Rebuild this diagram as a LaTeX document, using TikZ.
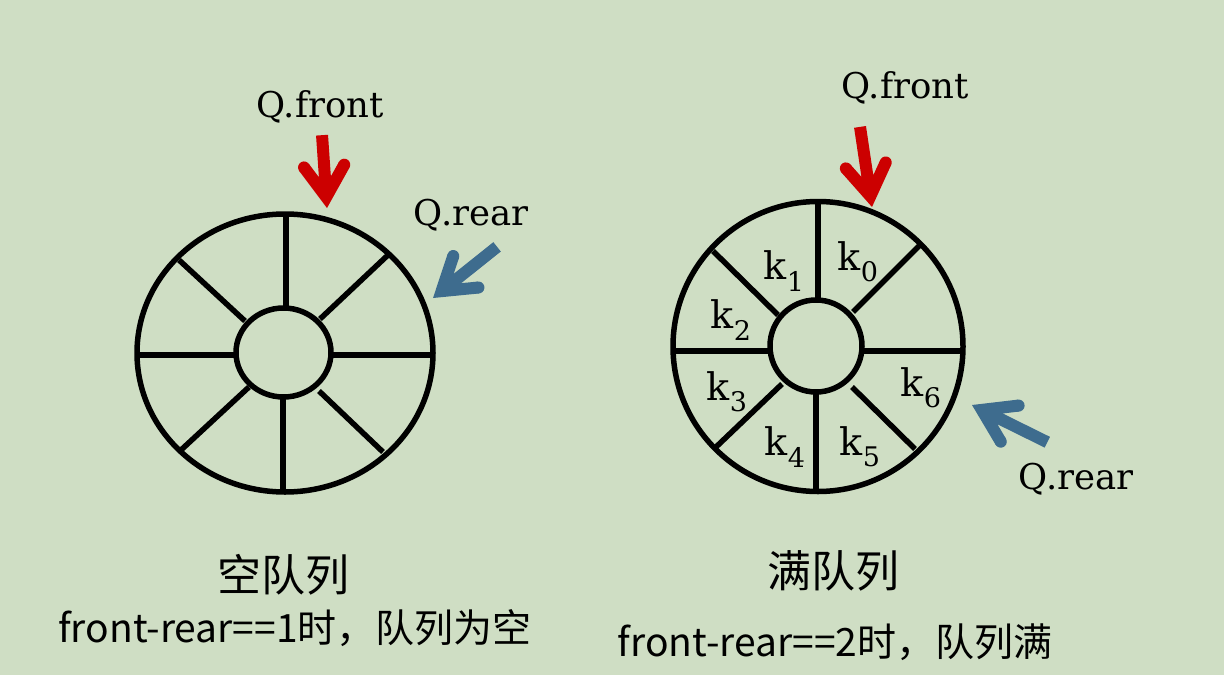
\documentclass[tikz,border=0pt]{standalone}
\usepackage{fontspec}
\setmainfont{DejaVu Serif}
\newfontfamily\cjk{Noto Sans CJK SC}
\definecolor{bg}{RGB}{207,222,196}
\definecolor{arrred}{RGB}{204,0,0}
\definecolor{arrblue}{RGB}{62,108,142}
\newcommand{\ksub}[1]{k\raisebox{-0.3em}{\fontsize{27}{27}\selectfont #1}}
\tikzset{
  ring/.style={line width=5.5pt, draw=black},
  spoke/.style={line width=5.5pt, line cap=butt},
  lbl/.style={font=\fontsize{35.5}{40}\selectfont, inner sep=0pt},
  klbl/.style={font=\fontsize{38}{42}\selectfont, inner sep=0pt},
  cntitle/.style={font=\cjk\fontsize{44}{50}\selectfont, inner sep=0pt},
  cond/.style={font=\cjk\fontsize{39}{44}\selectfont, inner sep=0pt},
  bigarrow/.pic={
    \fill (0,0) -- (-38.8,25.2) -- (-45.3,15.1) -- (-31.3,6) -- (-#1,6)
          -- (-#1,-6) -- (-31.3,-6) -- (-45.3,-15.1) -- (-38.8,-25.2) -- cycle;
    \fill (-42.05,20.15) circle[radius=6pt];
    \fill (-42.05,-20.15) circle[radius=6pt];
  }
}
\begin{document}
\begin{tikzpicture}[x=1pt,y=1pt]
\fill[bg] (0,0) rectangle (1224,-675);
\useasboundingbox (0,0) rectangle (1224,-675);

% ---------- left: empty queue ----------
\coordinate (LC) at (285,-353);
\coordinate (LI) at (283.5,-352.5);
\draw[ring] (LC) ellipse [x radius=148pt, y radius=139pt];
\draw[ring] (LI) ellipse [x radius=47.5pt, y radius=44.5pt];
\draw[spoke] (286,-214) -- (286,-308);
\draw[spoke] (283,-397) -- (283,-492);
\draw[spoke] (137,-355) -- (236,-355);
\draw[spoke] (331,-355) -- (433,-355);
\draw[spoke] (179,-260) -- (245,-321);
\draw[spoke] (388,-255) -- (320,-319);
\draw[spoke] (249,-387) -- (181,-450);
\draw[spoke] (319,-391) -- (383,-452);

\node[lbl] (lfront) at (320,-107) {Q.front};
\node[lbl] (lrear) at (471,-215) {Q.rear};
\coordinate (lfTip) at (327,-208);
\coordinate (lrTip) at (433,-298);
\pic[fill=arrred, rotate=-86.1] at (lfTip) {bigarrow=73};
\pic[fill=arrblue, rotate=218.6] at (lrTip) {bigarrow=82};

\node[cntitle] (lt) at (283,-575) {空队列};
\node[cond] (lcond) at (295,-628) {front-rear==1时，队列为空};

% ---------- right: full queue ----------
\coordinate (RC) at (818,-346.5);
\coordinate (RI) at (816,-346);
\draw[ring] (RC) circle [radius=145pt];
\draw[ring] (RI) circle [radius=46pt];
\draw[spoke] (818,-201) -- (818,-300);
\draw[spoke] (816,-392) -- (816,-492);
\draw[spoke] (673,-351) -- (770,-351);
\draw[spoke] (862,-351) -- (963,-351);
\draw[spoke] (713,-251) -- (778,-315);
\draw[spoke] (920,-245) -- (853,-312);
\draw[spoke] (782,-384) -- (716,-447);
\draw[spoke] (852,-387) -- (915,-449);

\node[klbl] (k0) at (858,-262) {\ksub{0}};
\node[klbl] (k1) at (784,-271) {\ksub{1}};
\node[klbl] (k2) at (731,-320) {\ksub{2}};
\node[klbl] (k3) at (727,-392) {\ksub{3}};
\node[klbl] (k4) at (785,-447) {\ksub{4}};
\node[klbl] (k5) at (860,-447) {\ksub{5}};
\node[klbl] (k6) at (921,-388) {\ksub{6}};

\node[lbl] (rfront) at (905,-88) {Q.front};
\node[lbl] (rrear) at (1076,-479) {Q.rear};
\coordinate (rfTip) at (872,-207);
\coordinate (rrTip) at (972,-405);
\pic[fill=arrred, rotate=-81.5] at (rfTip) {bigarrow=81};
\pic[fill=arrblue, rotate=153.7] at (rrTip) {bigarrow=84};

\node[cntitle] (rt) at (833,-571) {满队列};
\node[cond] (rcond) at (835,-642) {front-rear==2时，队列满};
\end{tikzpicture}
\end{document}
